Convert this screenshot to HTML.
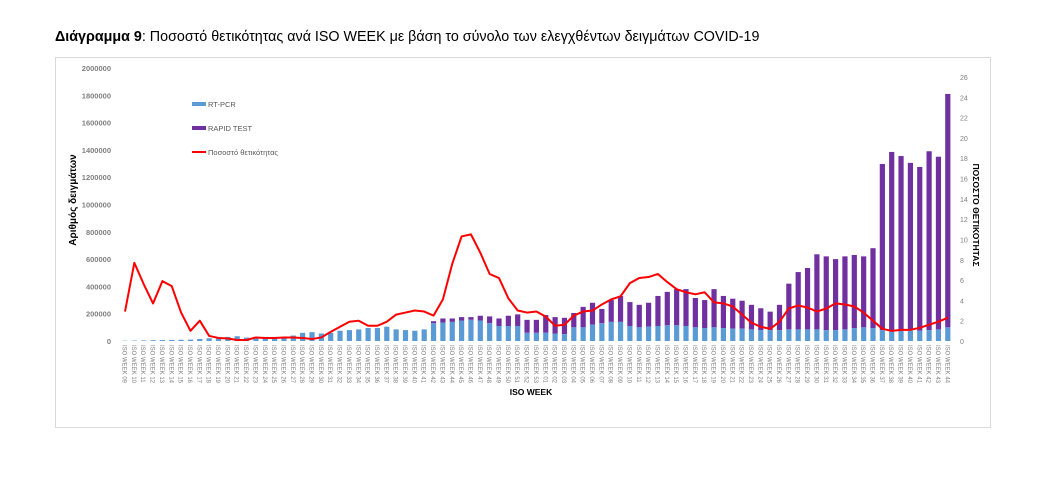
<!DOCTYPE html>
<html><head><meta charset="utf-8"><style>
body{margin:0;background:#fff;width:1064px;height:482px;overflow:hidden;font-family:"Liberation Sans","DejaVu Sans",sans-serif}
</style></head><body>
<svg id="s" width="1064" height="482" xmlns="http://www.w3.org/2000/svg" font-family="Liberation Sans, DejaVu Sans, sans-serif">
<text x="55" y="41" font-size="14.3" fill="#000"><tspan font-weight="bold">Διάγραμμα 9</tspan>: Ποσοστό θετικότητας ανά ISO WEEK με βάση το σύνολο των ελεγχθέντων δειγμάτων COVID-19</text>
<rect x="55.5" y="57.5" width="935" height="370" fill="#fff" stroke="#d9d9d9"/>
<g id="g"></g>
</svg>
<script>
const g=document.getElementById('g');let h='';
const y0=341,pu=273/2000000,ru=264/26;
for(let i=0;i<=10;i++){const v=i*200000;h+=`<text x="111" y="${y0-v*pu+3}" font-size="7.5" font-weight="bold" fill="#7f7f7f" text-anchor="end">${v}</text>`;}
for(let i=0;i<=26;i+=2){h+=`<text x="960" y="${y0-i*ru+3}" font-size="7" fill="#7f7f7f">${i}</text>`;}
h+=`<text transform="translate(76,200) rotate(-90)" font-size="10" font-weight="bold" text-anchor="middle">Αριθμός δειγμάτων</text>`;
h+=`<text transform="translate(973,215) rotate(90)" font-size="8.5" font-weight="bold" text-anchor="middle">ΠΟΣΟΣΤΟ ΘΕΤΙΚΟΤΗΤΑΣ</text>`;
h+=`<text x="531" y="395" font-size="8.5" font-weight="bold" text-anchor="middle">ISO WEEK</text>`;
const labs=[];for(let w=9;w<=53;w++)labs.push(String(w).padStart(2,'0'));for(let w=1;w<=44;w++)labs.push(String(w).padStart(2,'0'));
const blue=[2,3,4,6,7,8,9,10,15,20,30,30,35,25,30,30,30,30,40,60,65,55,60,75,80,85,95,95,105,85,80,75,85,130,135,140,150,155,150,130,110,110,110,60,60,60,55,50,100,100,120,130,140,140,110,100,105,110,115,115,110,100,95,100,95,90,90,85,80,80,80,85,85,85,85,80,80,85,95,100,95,80,75,80,80,75,80,85,100];
const tot=[2,3,4,6,7,8,9,10,15,20,30,30,35,25,30,30,30,30,40,60,65,55,60,75,80,85,95,95,105,85,80,75,85,145,165,165,175,175,185,180,165,185,195,155,155,190,175,170,205,250,280,235,300,330,285,265,280,330,360,380,380,315,300,380,330,310,295,265,240,215,265,420,505,535,635,620,600,620,630,620,680,1297,1385,1355,1305,1275,1390,1350,1810];
const pct=[2.9,7.7,5.6,3.7,5.9,5.4,2.8,1.0,2.0,0.5,0.3,0.25,0.1,0.1,0.35,0.3,0.3,0.35,0.35,0.3,0.2,0.35,0.9,1.4,1.9,2.0,1.5,1.5,1.9,2.6,2.8,3.0,2.9,2.5,4.1,7.6,10.3,10.5,8.7,6.6,6.2,4.2,3.0,2.8,2.9,2.4,1.5,1.6,2.5,2.9,3.0,3.6,4.1,4.4,5.7,6.2,6.3,6.6,5.8,5.1,4.8,4.6,4.8,3.8,3.7,3.4,2.6,1.8,1.4,1.2,1.9,3.2,3.5,3.3,2.9,3.2,3.7,3.6,3.4,2.8,2.0,1.2,1.0,1.1,1.1,1.3,1.6,1.9,2.3];
let pts=[];
for(let i=0;i<89;i++){const x=125+i*9.35;const b=blue[i]*1000*pu,t=tot[i]*1000*pu;
 if(t>b)h+=`<rect x="${x-2.6}" y="${y0-t}" width="5.2" height="${t-b}" fill="#7030a0"/>`;
 h+=`<rect x="${x-2.6}" y="${y0-b}" width="5.2" height="${b}" fill="#5b9bd5"/>`;
 h+=`<text transform="translate(${x-2.5},345) rotate(90)" font-size="6" fill="#7f7f7f">ISO WEEK ${labs[i]}</text>`;
 pts.push(`${x},${y0-pct[i]*ru}`);}
h+=`<polyline points="${pts.join(' ')}" fill="none" stroke="#ff0000" stroke-width="2" stroke-linejoin="round"/>`;
h+=`<rect x="192" y="102" width="14" height="4" fill="#5b9bd5"/><text x="208" y="107" font-size="7.5" fill="#595959">RT-PCR</text>`;
h+=`<rect x="192" y="126" width="14" height="4" fill="#7030a0"/><text x="208" y="131" font-size="7.5" fill="#595959">RAPID TEST</text>`;
h+=`<line x1="192" y1="152" x2="206" y2="152" stroke="#ff0000" stroke-width="2"/><text x="208" y="155" font-size="7.5" fill="#595959">Ποσοστό θετικότητας</text>`;
g.innerHTML=h;
</script>
</body></html>
